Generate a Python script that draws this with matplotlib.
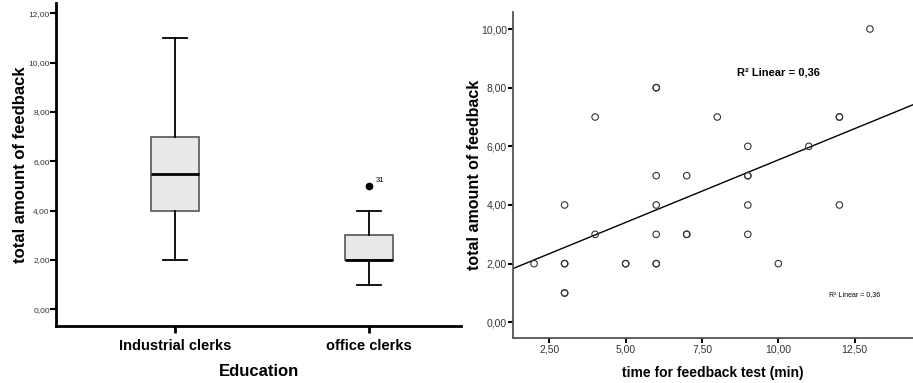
import numpy as np
import matplotlib.pyplot as plt

plt.rcParams['font.family'] = ['Liberation Sans', 'DejaVu Sans']

# boxplot data (Education groups)
groups = ["Industrial clerks", "office clerks"]
whisker_low = [2, 1]
q1 = [4, 2]
median = [5.5, 2]
q3 = [7, 3]
whisker_high = [11, 4]
outlier_vals = [[], [5]]
outlier_ids = [[], ["31"]]

# scatter data: time for feedback test vs total feedback
time_min = [2, 3, 3, 3, 3, 3, 4, 4, 5, 5, 6, 6, 6, 6, 6, 6, 6, 7, 7, 7, 8,
            9, 9, 9, 9, 9, 10, 11, 12, 12, 12, 13]
feedback = [2, 4, 2, 2, 1, 1, 7, 3, 2, 2, 8, 8, 5, 4, 3, 2, 2, 5, 3, 3, 7,
            6, 5, 5, 4, 3, 2, 6, 7, 7, 4, 10]
r2_text = "0,36"


def comma(v, pos=None):
    return f"{v:.2f}".replace(".", ",")


fig = plt.figure(figsize=(9.13, 3.83), dpi=100)

# ---- left: boxplot
ax1 = fig.add_axes([56 / 913, 57 / 383, 405 / 913, 323 / 383])
stats = []
for i in range(len(groups)):
    stats.append({"whislo": whisker_low[i], "q1": q1[i], "med": median[i],
                  "q3": q3[i], "whishi": whisker_high[i], "fliers": outlier_vals[i]})
ax1.bxp(stats, positions=[1, 2], widths=0.25, patch_artist=True,
        boxprops=dict(facecolor="#e8e8e8", edgecolor="#555555", linewidth=1.2),
        medianprops=dict(color="black", linewidth=2),
        whiskerprops=dict(color="black", linewidth=1.3),
        capprops=dict(color="black", linewidth=1.3),
        flierprops=dict(marker="o", markerfacecolor="black", markeredgecolor="black",
                        markersize=4.5))
for i in range(len(groups)):
    for v, lab in zip(outlier_vals[i], outlier_ids[i]):
        ax1.annotate(lab, (i + 1, v), xytext=(5, 3), textcoords="offset points",
                     fontsize=5.5)
ax1.set_xlim(0.387, 2.474)
ax1.set_ylim(-0.68, 12.42)
ax1.set_yticks(np.arange(0, 13, 2))
ax1.yaxis.set_major_formatter(comma)
ax1.set_xticks([1, 2])
ax1.set_xticklabels(groups, fontsize=10.5, fontweight="bold")
ax1.tick_params(axis="y", labelsize=6, length=4, width=1.5, pad=0.5, colors="black",
                labelcolor="#333333")
ax1.tick_params(axis="x", length=5, width=2, pad=4)
for s in ["top", "right"]:
    ax1.spines[s].set_visible(False)
for s in ["left", "bottom"]:
    ax1.spines[s].set_linewidth(2)
ax1.set_ylabel("total amount of feedback", fontsize=12, fontweight="bold", labelpad=0)
ax1.set_xlabel("Education", fontsize=12, fontweight="bold", labelpad=8)

# ---- right: scatter with linear fit
ax2 = fig.add_axes([513.3 / 913, 44.7 / 383, 400 / 913, 326 / 383])
x = np.array(time_min, dtype=float)
y = np.array(feedback, dtype=float)
ax2.scatter(x, y, s=22, facecolors="none", edgecolors="#333333", linewidths=0.8, zorder=3)
slope, intercept = np.polyfit(x, y, 1)
xx = np.array([1.32, 14.42])
ax2.plot(xx, intercept + slope * xx, color="black", linewidth=1, zorder=2)
ax2.text(8.65, 8.53, "R² Linear = " + r2_text, fontsize=8, fontweight="bold", va="center")
ax2.text(11.65, 0.93, "R² Linear = " + r2_text, fontsize=5, va="center")
ax2.set_xlim(1.32, 14.42)
ax2.set_ylim(-0.545, 10.57)
ax2.set_xticks([2.5, 5, 7.5, 10, 12.5])
ax2.set_yticks(np.arange(0, 11, 2))
ax2.xaxis.set_major_formatter(comma)
ax2.yaxis.set_major_formatter(comma)
ax2.tick_params(labelsize=7.5, length=3.5, width=1.5, pad=1, labelcolor="#333333")
for s in ["top", "right"]:
    ax2.spines[s].set_visible(False)
for s in ["left", "bottom"]:
    ax2.spines[s].set_linewidth(1.3)
    ax2.spines[s].set_color("#555555")
ax2.set_ylabel("total amount of feedback", fontsize=11.5, fontweight="bold", labelpad=-1)
ax2.set_xlabel("time for feedback test (min)", fontsize=10, fontweight="bold", labelpad=8)

fig.savefig("out.png", dpi=100)
